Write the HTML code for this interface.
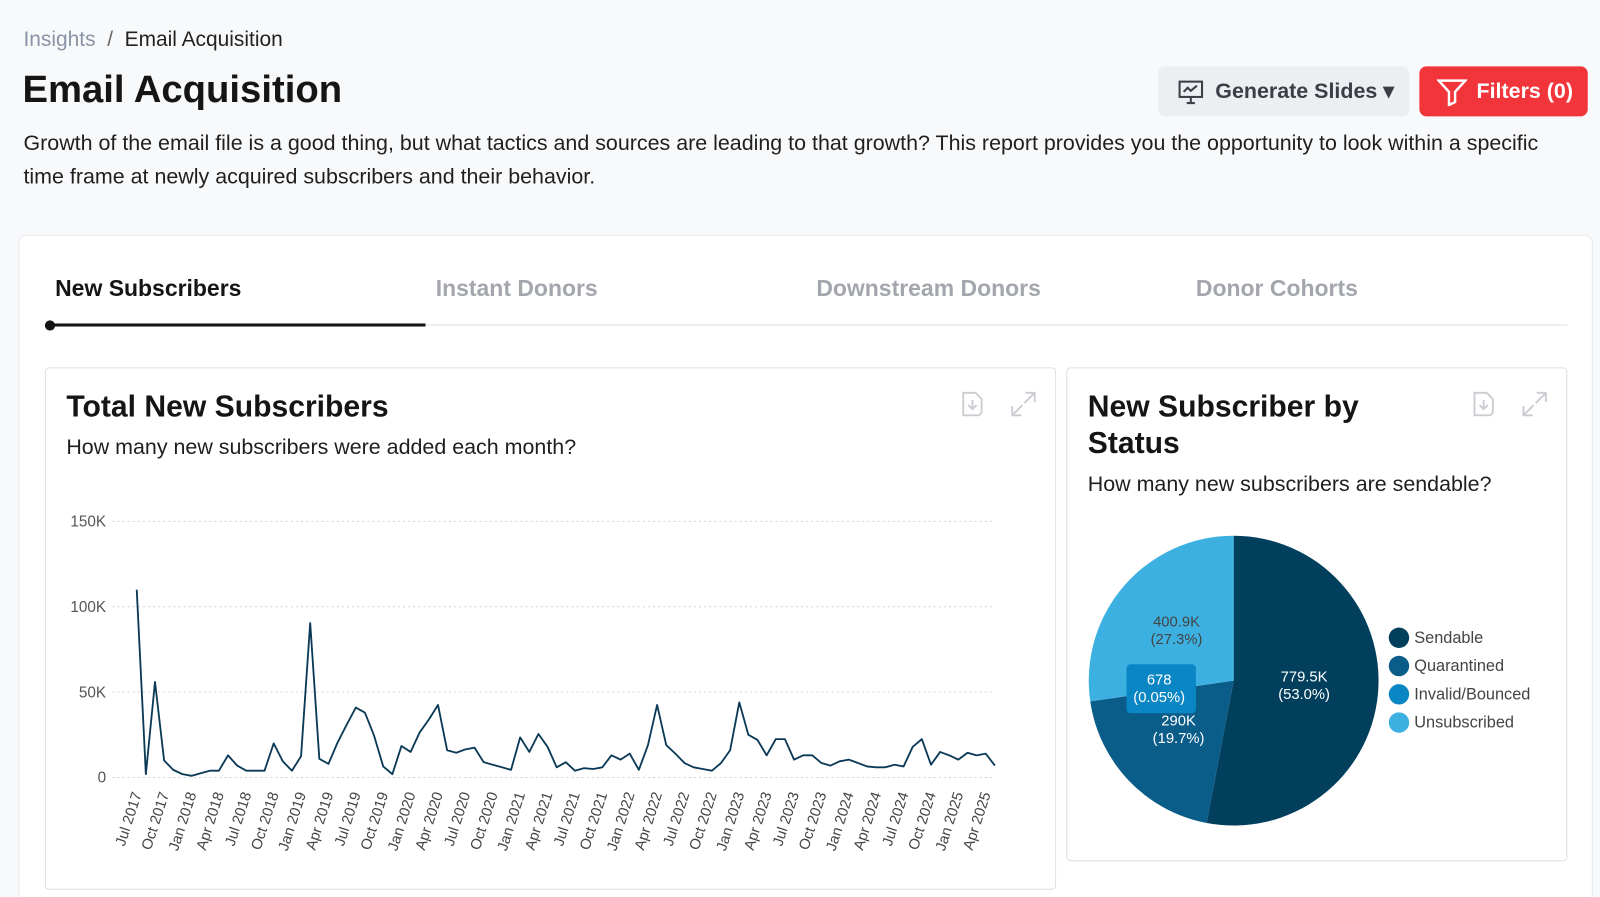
<!DOCTYPE html>
<html style="width:1600px;height:897px;overflow:hidden"><head><meta charset="utf-8"><style>
*{box-sizing:border-box;margin:0;padding:0}
body{width:1600px;height:897px;overflow:hidden;background:#f8f9fb;font-family:"Liberation Sans",sans-serif;color:#1a1a1a;position:relative}
#root{position:absolute;left:0;top:0;width:1568px;height:879px;overflow:hidden;transform:scale(1.0204);transform-origin:0 0}
.abs{position:absolute}
</style></head><body>
<div id="root">
<div class="abs" style="left:23px;top:27px;font-size:20.5px"><span style="color:#8a94a6">Insights</span><span style="color:#666"> &nbsp;/&nbsp; </span><span style="color:#222">Email Acquisition</span></div>
<div class="abs" style="left:22px;top:66px;font-size:37.5px;font-weight:bold;color:#151515">Email Acquisition</div>
<div class="abs" style="left:1135px;top:65px;width:246px;height:49px;background:#eceef1;border-radius:7px;font-size:21px;font-weight:bold;color:#3a3f47;line-height:49px;padding-left:56px">Generate Slides ▾
<svg class="abs" style="left:18px;top:11px" width="28" height="28" viewBox="0 0 28 28" fill="none" stroke="#3a3f47" stroke-width="2"><rect x="3" y="4" width="22" height="15"/><polyline points="7,14 11,10 14,13 20,8"/><line x1="14" y1="19" x2="14" y2="24"/><line x1="10" y1="25" x2="18" y2="25"/></svg></div>
<div class="abs" style="left:1391px;top:65px;width:165px;height:49px;background:#f2353a;border-radius:7px;font-size:21px;font-weight:bold;color:#fff;line-height:49px;padding-left:56px">Filters (0)
<svg class="abs" style="left:17px;top:11px" width="30" height="28" viewBox="0 0 30 28" fill="none" stroke="#fff" stroke-width="2.4"><path d="M2 3h26l-10 11v10l-6 3V14z"/></svg></div>
<div class="abs" style="left:23px;top:124px;width:1540px;font-size:21px;line-height:33px;color:#1f1f1f;white-space:nowrap">Growth of the email file is a good thing, but what tactics and sources are leading to that growth? This report provides you the opportunity to look within a specific<br>time frame at newly acquired subscribers and their behavior.</div>

<div class="abs" style="left:18px;top:230px;width:1543px;height:649px;background:#fff;border:1px solid #e6e8ec;border-bottom:none;border-radius:8px 8px 0 0"></div>
<div class="abs" style="left:54px;top:270px;font-size:22.5px;font-weight:bold;color:#151515">New Subscribers</div>
<div class="abs" style="left:427px;top:270px;font-size:22.5px;font-weight:bold;color:#a3a7ad">Instant Donors</div>
<div class="abs" style="left:800px;top:270px;font-size:22.5px;font-weight:bold;color:#a3a7ad">Downstream Donors</div>
<div class="abs" style="left:1172px;top:270px;font-size:22.5px;font-weight:bold;color:#a3a7ad">Donor Cohorts</div>
<div class="abs" style="left:44px;top:318px;width:1492px;height:1px;background:#dcdfe3"></div>
<div class="abs" style="left:48px;top:317px;width:369px;height:3px;background:#151515"></div>
<div class="abs" style="left:44px;top:314px;width:10px;height:10px;border-radius:5px;background:#151515"></div>

<div class="abs" style="left:44px;top:360px;width:991px;height:512px;border:1px solid #dcdfe3;border-radius:4px;background:#fff"></div>
<div class="abs" style="left:65px;top:382px;font-size:29.5px;font-weight:bold;color:#151515">Total New Subscribers</div>
<div class="abs" style="left:65px;top:427px;font-size:21px;color:#1f1f1f">How many new subscribers were added each month?</div>
<svg class="abs" style="left:938px;top:381px" width="30" height="30" viewBox="0 0 30 30" fill="none" stroke="#c9ccd1" stroke-width="1.8"><path d="M6 4h12l6 6v12a4 4 0 0 1-4 4H6z"/><path d="M15 11v9M11 16l4 4 4-4"/></svg>
<svg class="abs" style="left:989px;top:382px" width="28" height="28" viewBox="0 0 28 28" fill="none" stroke="#c9ccd1" stroke-width="1.8"><path d="M16 3h9v9M25 3L15 13M12 25H3v-9M3 25l10-10"/></svg>

<svg id="line" class="abs" style="left:0;top:0" width="1568" height="879"></svg>

<div class="abs" style="left:1045px;top:360px;width:491px;height:484px;border:1px solid #dcdfe3;border-radius:4px;background:#fff"></div>
<div class="abs" style="left:1066px;top:381px;font-size:29.5px;font-weight:bold;line-height:36px;color:#151515">New Subscriber by<br>Status</div>
<div class="abs" style="left:1066px;top:463px;font-size:21px;color:#1f1f1f">How many new subscribers are sendable?</div>
<svg class="abs" style="left:1439px;top:381px" width="30" height="30" viewBox="0 0 30 30" fill="none" stroke="#c9ccd1" stroke-width="1.8"><path d="M6 4h12l6 6v12a4 4 0 0 1-4 4H6z"/><path d="M15 11v9M11 16l4 4 4-4"/></svg>
<svg class="abs" style="left:1490px;top:382px" width="28" height="28" viewBox="0 0 28 28" fill="none" stroke="#c9ccd1" stroke-width="1.8"><path d="M16 3h9v9M25 3L15 13M12 25H3v-9M3 25l10-10"/></svg>
<svg id="pie" class="abs" style="left:0;top:0" width="1568" height="879"></svg>
</div>

<script>
const months = [];
const monthNames=["Jan","Feb","Mar","Apr","May","Jun","Jul","Aug","Sep","Oct","Nov","Dec"];
const subscribers = [110,2,56,10,4.5,2,1,2.5,4,4,13,7,4,4,4,20,9.5,4,12.5,90.5,11,8,20.5,31,41,38,24.5,6.5,2,18.5,15,26.5,34,42.5,16,14.5,16.5,17.5,9,7.5,6,4.5,23.5,15,25.5,18,6,9,4,5.5,5,6,13,10.5,14,4.5,19,42.5,19,14,8.5,6,5,4,8.5,16,44,25,22,13,22.5,22.5,10.5,13,13,8.5,7,9.5,10.5,8.5,6.5,6,6,7.5,6.5,18,22.5,7.5,15,13,10.5,14.5,13,14,7];
for(let i=0;i<subscribers.length;i++){const m=(6+i)%12,y=2017+Math.floor((6+i)/12);months.push(monthNames[m]+" "+y);}
const yTicks=[0,50,100,150];
const yTickLabels=["0","50K","100K","150K"];
const NS="http://www.w3.org/2000/svg";
function mk(p,t,a){const e=document.createElementNS(NS,t);for(const k in a)e.setAttribute(k,a[k]);p.appendChild(e);return e;}
const L=document.getElementById('line');
const x0=134,x1=975,y0=762,yTop=511;
const xs=i=>x0+(x1-x0)*i/(subscribers.length-1);
const ys=v=>y0-(y0-yTop)*v/150;
yTicks.forEach((t,i)=>{
 const g=mk(L,'line',{x1:110,x2:975,y1:ys(t),y2:ys(t),stroke:'#c9d6d6','stroke-dasharray':'2,3'});
 
 
 const tx=mk(L,'text',{x:104,y:ys(t)+5,'text-anchor':'end','font-size':15,fill:'#555','font-family':'Liberation Sans'});
 tx.textContent=yTickLabels[i];
 
 
});
months.forEach((m,i)=>{
 if(i%3!==0)return;
 const x=xs(i)+5,y=778;
 const tx=mk(L,'text',{x:x,y:y,'text-anchor':'end','font-size':14.5,fill:'#444','font-family':'Liberation Sans',transform:`rotate(-72 ${x} ${y})`});
 tx.textContent=m;
 
 
});
const pl=mk(L,'polyline',{points:subscribers.map((v,i)=>xs(i)+','+ys(v)).join(' '),fill:'none',stroke:'#0b3a57','stroke-width':1.8,'stroke-linejoin':'round'});



const statuses=["Sendable","Quarantined","Invalid/Bounced","Unsubscribed"];
const statusValues=[779.5,290,0.678,400.9];
const statusPcts=["53.0%","19.7%","0.05%","27.3%"];
const statusLabels=["779.5K","290K","678","400.9K"];
const colors=["#023f5d","#0a5c89","#0b86c4","#3cb1e1"];
const P=document.getElementById('pie');
const cx=1209,cy=667,r=142;
const tot=statusValues.reduce((a,b)=>a+b,0);
let ang=0;
const labelPos=[[1278,672,'#fff'],[1155,715,'#fff'],[1136,675,'#fff'],[1153,618,'#444']];
statusValues.forEach((v,i)=>{
 const a0=ang,a1=ang+v/tot*2*Math.PI;ang=a1;
 const p=(a)=>[cx+r*Math.sin(a),cy-r*Math.cos(a)];
 const [sx,sy]=p(a0),[ex,ey]=p(a1);
 const s=mk(P,'path',{d:`M${cx},${cy}L${sx},${sy}A${r},${r} 0 ${a1-a0>Math.PI?1:0} 1 ${ex},${ey}Z`,fill:colors[i]});
 
 
});
mk(P,'rect',{x:1104,y:651,width:68,height:48,rx:4,fill:'#0b86c4'});
labelPos.forEach((lp,i)=>{
 const t=mk(P,'text',{x:lp[0],y:lp[1]-4,'text-anchor':'middle','font-size':14.5,fill:lp[2],'font-family':'Liberation Sans'});
 
 
 const a=mk(t,'tspan',{x:lp[0]});a.textContent=statusLabels[i];
 const b=mk(t,'tspan',{x:lp[0],dy:17});b.textContent='('+statusPcts[i]+')';
});
statuses.forEach((s,i)=>{
 const y=625+i*27.7;
 const c=mk(P,'circle',{cx:1371,cy:y,r:10,fill:colors[i]});
 
 
 const t=mk(P,'text',{x:1386,y:y+5,'font-size':16,fill:'#444','font-family':'Liberation Sans'});
 t.textContent=s;
 
 
});
</script>
</body></html>
